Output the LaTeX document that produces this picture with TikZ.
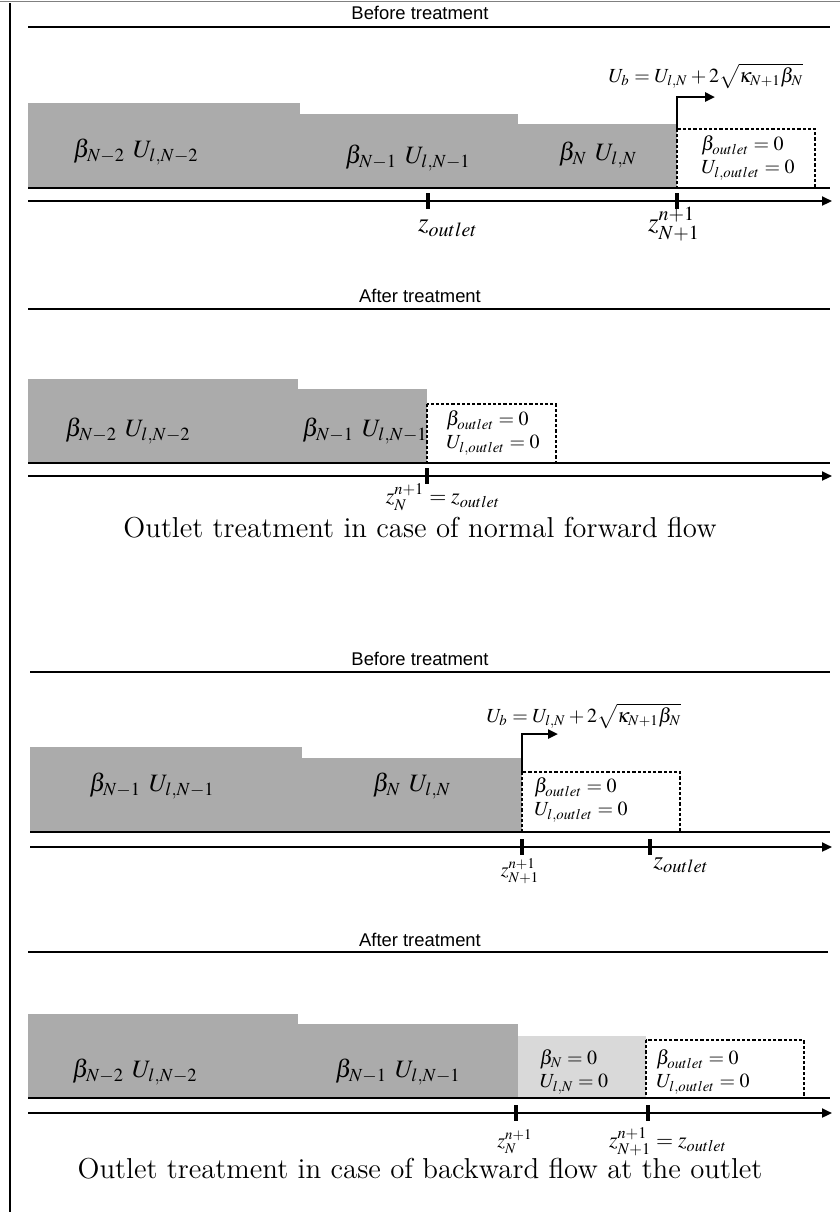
\documentclass[tikz,border=0pt]{standalone}
\usepackage{mathptmx}
\usepackage{fontspec}
\newfontfamily\arialfont{Liberation Sans}
\usetikzlibrary{arrows.meta}

\begin{document}
\begin{tikzpicture}[x=0.5pt,y=-0.5pt,
  cell/.style={fill=black!33},
  emptiedcell/.style={fill=black!15},
  outletbox/.style={draw,line width=0.8pt,dash pattern=on 1.6pt off 1pt},
  heading/.style={font=\arialfont\fontsize{9.2}{11}\selectfont},
  sectionline/.style={line width=1.3pt},
  zaxis/.style={line width=1.1pt,-{Triangle[length=5pt,width=4.5pt]}},
  zmark/.style={line width=1.6pt},
  speed/.style={line width=1.2pt,-{Triangle[length=5pt,width=4.5pt]}},
  qlabel/.style={font=\fontsize{12.5}{14}\selectfont,inner sep=1pt},
  boxlabel/.style={font=\fontsize{10}{11.5}\selectfont,align=left,inner sep=1pt},
  bigz/.style={font=\fontsize{13.5}{15}\selectfont,inner sep=1pt},
  figcaption/.style={font=\fontsize{14.4}{17}\selectfont}]

\useasboundingbox (0,0) rectangle (840,1212);
\draw[black!50,line width=0.5pt] (0,1) -- (840,1);
\draw[line width=1pt] (10,3) -- (10,1212);

% normal forward flow, before treatment
\node[heading] (head1) at (420,13) {Before treatment};
\draw[sectionline] (28,27) -- (830,27);
\fill[cell] (28,103) rectangle (300,188);
\fill[cell] (300,114) rectangle (518,188);
\fill[cell] (518,124) rectangle (677,188);
\draw[outletbox] (677,129) rectangle (815,188);
\draw[sectionline] (28,188) -- (830,188);
\coordinate (axis1w) at (28,201);
\coordinate (axis1e) at (832,201);
\draw[zaxis] (axis1w) -- (axis1e);
\coordinate (zout1) at (428,201);
\coordinate (zface1) at (677,201);
\foreach \p in {zout1,zface1}
  \draw[zmark] (\p) ++(0,-8) -- ++(0,16);
\coordinate (front1) at (677,129);
\coordinate (tip1) at (715,97);
\draw[speed] (front1) |- (tip1);
\node[boxlabel] (ub1) at (706,76) {$U_b = U_{l,N} + 2\sqrt{\kappa_{N+1}\beta_N}$};
\node[qlabel] (c1a) at (136,152) {$\beta_{N-2}\ U_{l,N-2}$};
\node[qlabel] (c1b) at (408,158) {$\beta_{N-1}\ U_{l,N-1}$};
\node[qlabel] (c1c) at (598,155) {$\beta_{N}\ U_{l,N}$};
\node[boxlabel] (o1) at (748,158) {$\beta_{outlet} = 0$\\$U_{l,outlet} = 0$};
\node[bigz] (zl1a) at (448,228) {$z_{outlet}$};
\node[bigz] (zl1b) at (674,224) {$z^{n+1}_{N+1}$};

% normal forward flow, after treatment
\node[heading] (head2) at (420,296) {After treatment};
\draw[sectionline] (28,309) -- (830,309);
\fill[cell] (28,379) rectangle (298,463);
\fill[cell] (298,389) rectangle (427,463);
\draw[outletbox] (427,404) rectangle (556,463);
\draw[sectionline] (28,463) -- (830,463);
\coordinate (axis2w) at (28,476);
\coordinate (axis2e) at (832,476);
\draw[zaxis] (axis2w) -- (axis2e);
\coordinate (zout2) at (427,476);
\draw[zmark] (zout2) ++(0,-8) -- ++(0,16);
\node[qlabel] (c2a) at (128,431) {$\beta_{N-2}\ U_{l,N-2}$};
\node[qlabel] (c2b) at (365,431) {$\beta_{N-1}\ U_{l,N-1}$};
\node[boxlabel] (o2) at (493,433) {$\beta_{outlet} = 0$\\$U_{l,outlet} = 0$};
\node[boxlabel,font=\fontsize{11}{13}\selectfont] (zl2) at (443,497) {$z^{n+1}_{N} = z_{outlet}$};
\node[figcaption] (cap1) at (420,528) {Outlet treatment in case of normal forward flow};

% backward flow, before treatment
\node[heading] (head3) at (420,659) {Before treatment};
\draw[sectionline] (30,672) -- (830,672);
\fill[cell] (30,747) rectangle (302,832);
\fill[cell] (302,758) rectangle (522,832);
\draw[outletbox] (522,772) rectangle (680,832);
\draw[sectionline] (30,832) -- (830,832);
\coordinate (axis3w) at (30,847);
\coordinate (axis3e) at (832,847);
\draw[zaxis] (axis3w) -- (axis3e);
\coordinate (zface3) at (522,847);
\coordinate (zout3) at (650,847);
\foreach \p in {zface3,zout3}
  \draw[zmark] (\p) ++(0,-8) -- ++(0,16);
\coordinate (front3) at (522,772);
\coordinate (tip3) at (558,734);
\draw[speed] (front3) |- (tip3);
\node[boxlabel] (ub3) at (584,716) {$U_b = U_{l,N} + 2\sqrt{\kappa_{N+1}\beta_N}$};
\node[qlabel] (c3a) at (152,786) {$\beta_{N-1}\ U_{l,N-1}$};
\node[qlabel] (c3b) at (412,786) {$\beta_{N}\ U_{l,N}$};
\node[boxlabel] (o3) at (581,800) {$\beta_{outlet} = 0$\\$U_{l,outlet} = 0$};
\node[boxlabel] (zl3a) at (520,871) {$z^{n+1}_{N+1}$};
\node[qlabel] (zl3b) at (681,865) {$z_{outlet}$};

% backward flow, after treatment
\node[heading] (head4) at (420,940) {After treatment};
\draw[sectionline] (28,952) -- (828,952);
\fill[cell] (28,1014) rectangle (298,1098);
\fill[cell] (298,1024) rectangle (518,1098);
\fill[emptiedcell] (518,1036) rectangle (646,1098);
\draw[outletbox] (646,1040) rectangle (804,1098);
\draw[sectionline] (28,1098) -- (830,1098);
\coordinate (axis4w) at (28,1113);
\coordinate (axis4e) at (832,1113);
\draw[zaxis] (axis4w) -- (axis4e);
\coordinate (zface4) at (516,1113);
\coordinate (zout4) at (648,1113);
\foreach \p in {zface4,zout4}
  \draw[zmark] (\p) ++(0,-8) -- ++(0,16);
\node[qlabel] (c4a) at (135,1072) {$\beta_{N-2}\ U_{l,N-2}$};
\node[qlabel] (c4b) at (398,1072) {$\beta_{N-1}\ U_{l,N-1}$};
\node[boxlabel] (e4) at (574,1072) {$\beta_{N} = 0$\\$U_{l,N} = 0$};
\node[boxlabel] (o4) at (703,1072) {$\beta_{outlet} = 0$\\$U_{l,outlet} = 0$};
\node[boxlabel] (zl4a) at (515,1142) {$z^{n+1}_{N}$};
\node[boxlabel,font=\fontsize{11}{13}\selectfont] (zl4b) at (668,1142) {$z^{n+1}_{N+1} = z_{outlet}$};
\node[figcaption] (cap2) at (420,1169) {Outlet treatment in case of backward flow at the outlet};
\end{tikzpicture}
\end{document}
